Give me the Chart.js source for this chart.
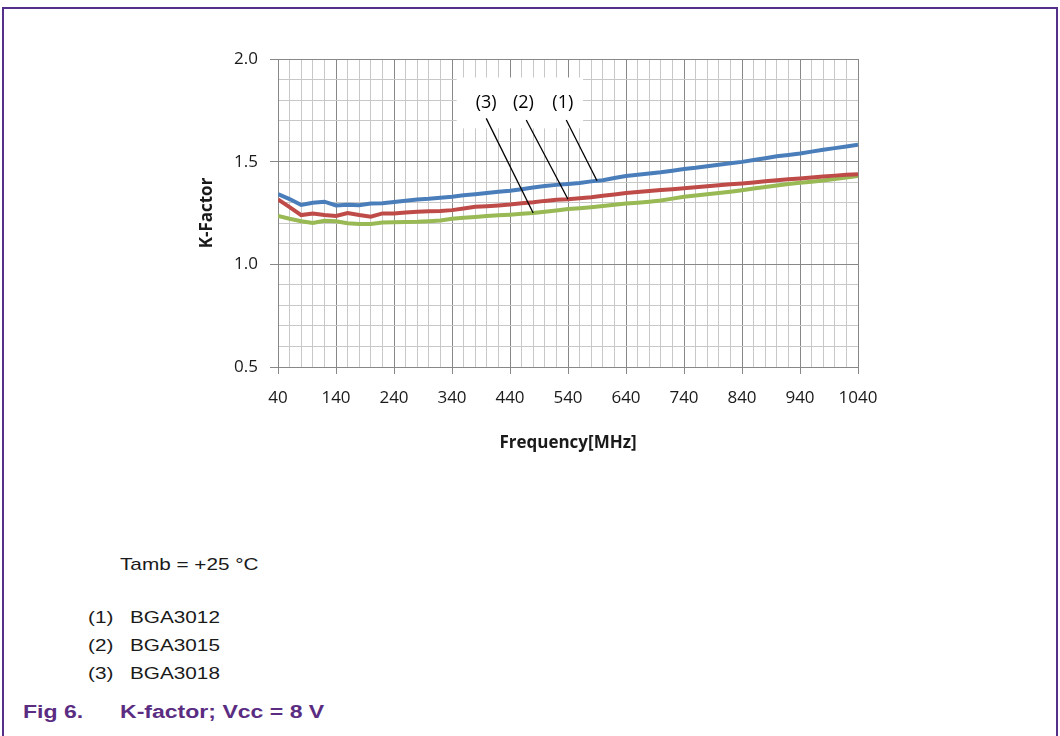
<!DOCTYPE html>
<html>
<head>
<meta charset="utf-8">
<script src="https://cdn.jsdelivr.net/npm/chart.js@4.4.0/dist/chart.umd.min.js"></script>
<style>
  html, body { margin: 0; padding: 0; background: #fff; }
  body { width: 1060px; height: 736px; position: relative; overflow: hidden;
         font-family: "Liberation Sans", Arial, sans-serif; }
  .frame { position: absolute; left: 2px; top: 7px; width: 1052px; height: 760px;
           border: 2px solid #55308a; border-bottom: none; }
  #wrap { position: absolute; left: 0; top: 0; width: 1060px; height: 480px; }
  .note { position: absolute; font-size: 17px; line-height: 20px; color: #1a1a1a;
          white-space: nowrap; transform-origin: left center; transform: scaleX(1.22); }
  .fig { position: absolute; font-size: 18px; line-height: 20px; font-weight: bold; color: #5a2d82;
         white-space: nowrap; transform-origin: left center; transform: scaleX(1.28); }
</style>
</head>
<body>
<div class="frame"></div>
<div id="wrap"><canvas id="chart" width="1060" height="480"></canvas></div>

<div class="note" style="left:120px; top:555px;">Tamb = +25 °C</div>
<div class="note" style="left:88px; top:608px;">(1)</div>
<div class="note" style="left:130px; top:608px;">BGA3012</div>
<div class="note" style="left:88px; top:636px;">(2)</div>
<div class="note" style="left:130px; top:636px;">BGA3015</div>
<div class="note" style="left:88px; top:664px;">(3)</div>
<div class="note" style="left:130px; top:664px;">BGA3018</div>
<div class="fig" style="left:23px; top:702px;">Fig 6.</div>
<div class="fig" style="left:120px; top:702px;">K-factor; Vcc = 8 V</div>

<script>
// frequency in MHz
const freqs = [40, 60, 80, 100, 120, 140, 160, 180, 200, 220, 240, 260, 280, 300, 320, 340,
  360, 380, 400, 420, 440, 460, 480, 500, 520, 540, 560, 580, 600, 620, 640, 660, 680, 700,
  720, 740, 760, 780, 800, 820, 840, 860, 880, 900, 920, 940, 960, 980, 1000, 1020, 1040];

// K-factor
const bga3012 = [1.342, 1.318, 1.289, 1.300, 1.305, 1.287, 1.290, 1.288, 1.296, 1.298, 1.304,
  1.310, 1.316, 1.319, 1.324, 1.329, 1.336, 1.341, 1.347, 1.353, 1.358, 1.366, 1.374, 1.381,
  1.387, 1.391, 1.396, 1.404, 1.410, 1.420, 1.430, 1.436, 1.442, 1.448, 1.456, 1.464, 1.470,
  1.478, 1.485, 1.492, 1.499, 1.508, 1.517, 1.526, 1.533, 1.540, 1.549, 1.558, 1.566, 1.574, 1.582];
const bga3015 = [1.316, 1.279, 1.240, 1.248, 1.240, 1.236, 1.250, 1.240, 1.232, 1.248, 1.248,
  1.252, 1.256, 1.258, 1.260, 1.264, 1.272, 1.280, 1.283, 1.287, 1.291, 1.297, 1.302, 1.309,
  1.314, 1.317, 1.322, 1.327, 1.334, 1.340, 1.347, 1.352, 1.357, 1.362, 1.366, 1.370, 1.375,
  1.380, 1.385, 1.390, 1.394, 1.399, 1.405, 1.410, 1.414, 1.418, 1.423, 1.428, 1.432, 1.436, 1.439];
const bga3018 = [1.236, 1.222, 1.210, 1.202, 1.212, 1.210, 1.200, 1.196, 1.196, 1.204, 1.205,
  1.206, 1.207, 1.210, 1.214, 1.222, 1.227, 1.231, 1.235, 1.239, 1.242, 1.246, 1.250, 1.256,
  1.262, 1.269, 1.273, 1.278, 1.284, 1.290, 1.296, 1.300, 1.305, 1.311, 1.320, 1.329, 1.335,
  1.341, 1.347, 1.354, 1.361, 1.369, 1.377, 1.384, 1.391, 1.397, 1.402, 1.408, 1.416, 1.423, 1.430];

const seriesNames = ["BGA3012", "BGA3015", "BGA3018"];
const calloutTexts = ["(1)", "(2)", "(3)"];
const xTickLabels = [40, 140, 240, 340, 440, 540, 640, 740, 840, 940, 1040];
const yTickLabels = [0.5, 1.0, 1.5, 2.0];
// y grid every 0.1
const yGrid = [0.5, 0.6, 0.7, 0.8, 0.9, 1.0, 1.1, 1.2, 1.3, 1.4, 1.5, 1.6, 1.7, 1.8, 1.9, 2.0];

const isMajorX = v => xTickLabels.includes(Math.round(v));
const isMajorY = v => yTickLabels.some(t => Math.abs(t - v) < 1e-6);

const MAJOR = "#888888";
const MINOR = "#c8c8c8";

// callouts: label spot and the point on the curve the leader goes to (data units)
const callouts = [
  { series: 2, label: [399, 1.785], from: [399, 1.711], at: 480 },
  { series: 1, label: [463, 1.785], from: [468, 1.703], at: 540 },
  { series: 0, label: [531, 1.785], from: [537, 1.703], at: 590 }
];

const calloutPlugin = {
  id: "callouts",
  beforeDatasetsDraw(chart) {
    const { ctx, scales: { x, y } } = chart;
    const x0 = x.getPixelForValue(348), x1 = x.getPixelForValue(566);
    const y0 = y.getPixelForValue(1.91), y1 = y.getPixelForValue(1.662);
    ctx.save();
    ctx.fillStyle = "#ffffff";
    ctx.fillRect(x0, y0, x1 - x0, y1 - y0);
    ctx.restore();
  },
  afterDatasetsDraw(chart) {
    const { ctx, scales: { x, y } } = chart;
    ctx.save();
    ctx.strokeStyle = "#000";
    ctx.lineWidth = 1.3;
    ctx.fillStyle = "#000";
    ctx.font = "18px 'Open Sans'";
    ctx.textAlign = "center";
    ctx.textBaseline = "middle";
    callouts.forEach(c => {
      const data = chart.data.datasets[c.series].data;
      const i = freqs.findIndex(f => f >= c.at);
      let tx = data[i].x, ty = data[i].y;
      if (freqs[i] !== c.at) {
        const a = data[i - 1], b = data[i];
        const t = (c.at - a.x) / (b.x - a.x);
        tx = c.at; ty = a.y + (b.y - a.y) * t;
      }
      ctx.beginPath();
      ctx.moveTo(x.getPixelForValue(c.from[0]), y.getPixelForValue(c.from[1]));
      ctx.lineTo(x.getPixelForValue(tx), y.getPixelForValue(ty));
      ctx.stroke();
      ctx.fillText(calloutTexts[c.series], x.getPixelForValue(c.label[0]), y.getPixelForValue(c.label[1]));
    });
    ctx.restore();
  }
};

const toPoints = vals => vals.map((v, i) => ({ x: freqs[i], y: v }));

new Chart(document.getElementById("chart"), {
  type: "line",
  data: {
    datasets: [
      { label: seriesNames[0], data: toPoints(bga3012), borderColor: "#4a7ebb" },
      { label: seriesNames[1], data: toPoints(bga3015), borderColor: "#be4b48" },
      { label: seriesNames[2], data: toPoints(bga3018), borderColor: "#98b954" }
    ].map(d => Object.assign(d, { borderWidth: 4, pointRadius: 0, tension: 0, fill: false }))
  },
  options: {
    responsive: false,
    animation: false,
    events: [],
    layout: { padding: { left: 197, right: 202, top: 59, bottom: 0 } },
    plugins: { legend: { display: false }, tooltip: { enabled: false } },
    scales: {
      x: {
        type: "linear",
        min: 40,
        max: 1040,
        afterFit: s => { s.height = 113; },
        ticks: {
          stepSize: 20,
          autoSkip: false,
          maxRotation: 0,
          padding: 14,
          color: "#1a1a1a",
          font: { family: "Open Sans", size: 17 },
          callback: v => (isMajorX(v) ? String(Math.round(v)) : "")
        },
        grid: {
          color: c => (isMajorX(c.tick.value) ? MAJOR : MINOR),
          tickColor: c => (isMajorX(c.tick.value) ? MAJOR : "rgba(0,0,0,0)"),
          tickLength: 7
        },
        border: { color: MAJOR },
        title: {
          display: true,
          text: "Frequency[MHz]",
          color: "#1a1a1a",
          font: { family: "Open Sans", size: 17, weight: "bold" },
          padding: { top: 0, bottom: 27 }
        }
      },
      y: {
        min: 0.5,
        max: 2.0,
        afterFit: s => { s.width = 81; },
        afterBuildTicks: s => { s.ticks = yGrid.map(v => ({ value: v })); },
        ticks: {
          padding: 12,
          autoSkip: false,
          color: "#1a1a1a",
          font: { family: "Open Sans", size: 17 },
          callback: v => (isMajorY(v) ? v.toFixed(1) : "")
        },
        grid: {
          color: c => (isMajorY(c.tick.value) ? MAJOR : MINOR),
          tickColor: c => (isMajorY(c.tick.value) ? MAJOR : "rgba(0,0,0,0)"),
          tickLength: 8
        },
        border: { color: MAJOR },
        title: {
          display: true,
          text: "K-Factor",
          color: "#1a1a1a",
          font: { family: "Open Sans", size: 17, weight: "bold" },
          padding: { top: 0, bottom: 0 }
        }
      }
    }
  },
  plugins: [calloutPlugin]
});
</script>
</body>
</html>
